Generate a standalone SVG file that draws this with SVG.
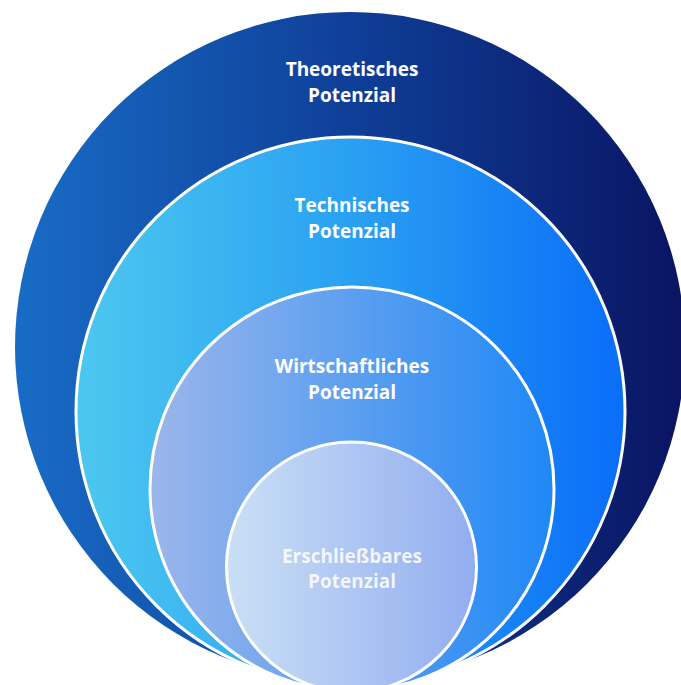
<svg xmlns="http://www.w3.org/2000/svg" width="681" height="685" viewBox="0 0 681 685">
  <defs>
    <linearGradient id="gTheo" x1="0" y1="0" x2="1" y2="0">
      <stop offset="0" stop-color="#186cc6"/>
      <stop offset="0.5" stop-color="#0f3f98"/>
      <stop offset="1" stop-color="#0a1462"/>
    </linearGradient>
    <linearGradient id="gTech" x1="0" y1="0" x2="1" y2="0">
      <stop offset="0" stop-color="#4cc8ef"/>
      <stop offset="0.5" stop-color="#2aa0f2"/>
      <stop offset="1" stop-color="#0a6df8"/>
    </linearGradient>
    <linearGradient id="gWirt" x1="0" y1="0" x2="1" y2="0">
      <stop offset="0" stop-color="#9cb6ea"/>
      <stop offset="0.5" stop-color="#5c9ff0"/>
      <stop offset="1" stop-color="#1f88f6"/>
    </linearGradient>
    <linearGradient id="gErsch" x1="0" y1="0" x2="1" y2="0">
      <stop offset="0" stop-color="#cadff5"/>
      <stop offset="1" stop-color="#92adf0"/>
    </linearGradient>
  </defs>
  <style>
    .ring { stroke: #ffffff; stroke-width: 3; }
    .label { font-family: "Segoe UI", "Open Sans", "Noto Sans", sans-serif; font-weight: bold; font-size: 19px; fill: #ffffff; text-anchor: middle; }
    .faded { fill-opacity: 0.85; }
  </style>
  <rect width="681" height="685" fill="#ffffff"/>

  <g id="theoretisches">
    <circle cx="350" cy="347" r="335" fill="url(#gTheo)"/>
    <text class="label" x="352" y="76">Theoretisches</text>
    <text class="label" x="352" y="102">Potenzial</text>
  </g>

  <g id="technisches">
    <circle class="ring" cx="350.5" cy="411.5" r="274.5" fill="url(#gTech)"/>
    <text class="label" x="352" y="212">Technisches</text>
    <text class="label" x="352" y="238">Potenzial</text>
  </g>

  <g id="wirtschaftliches">
    <circle class="ring" cx="352" cy="489" r="202" fill="url(#gWirt)"/>
    <text class="label" x="352" y="373">Wirtschaftliches</text>
    <text class="label" x="352" y="399">Potenzial</text>
  </g>

  <g id="erschliessbares">
    <circle class="ring" cx="351.5" cy="567" r="125" fill="url(#gErsch)"/>
    <text class="label faded" x="352" y="563">Erschließbares</text>
    <text class="label faded" x="352" y="588">Potenzial</text>
  </g>
</svg>
